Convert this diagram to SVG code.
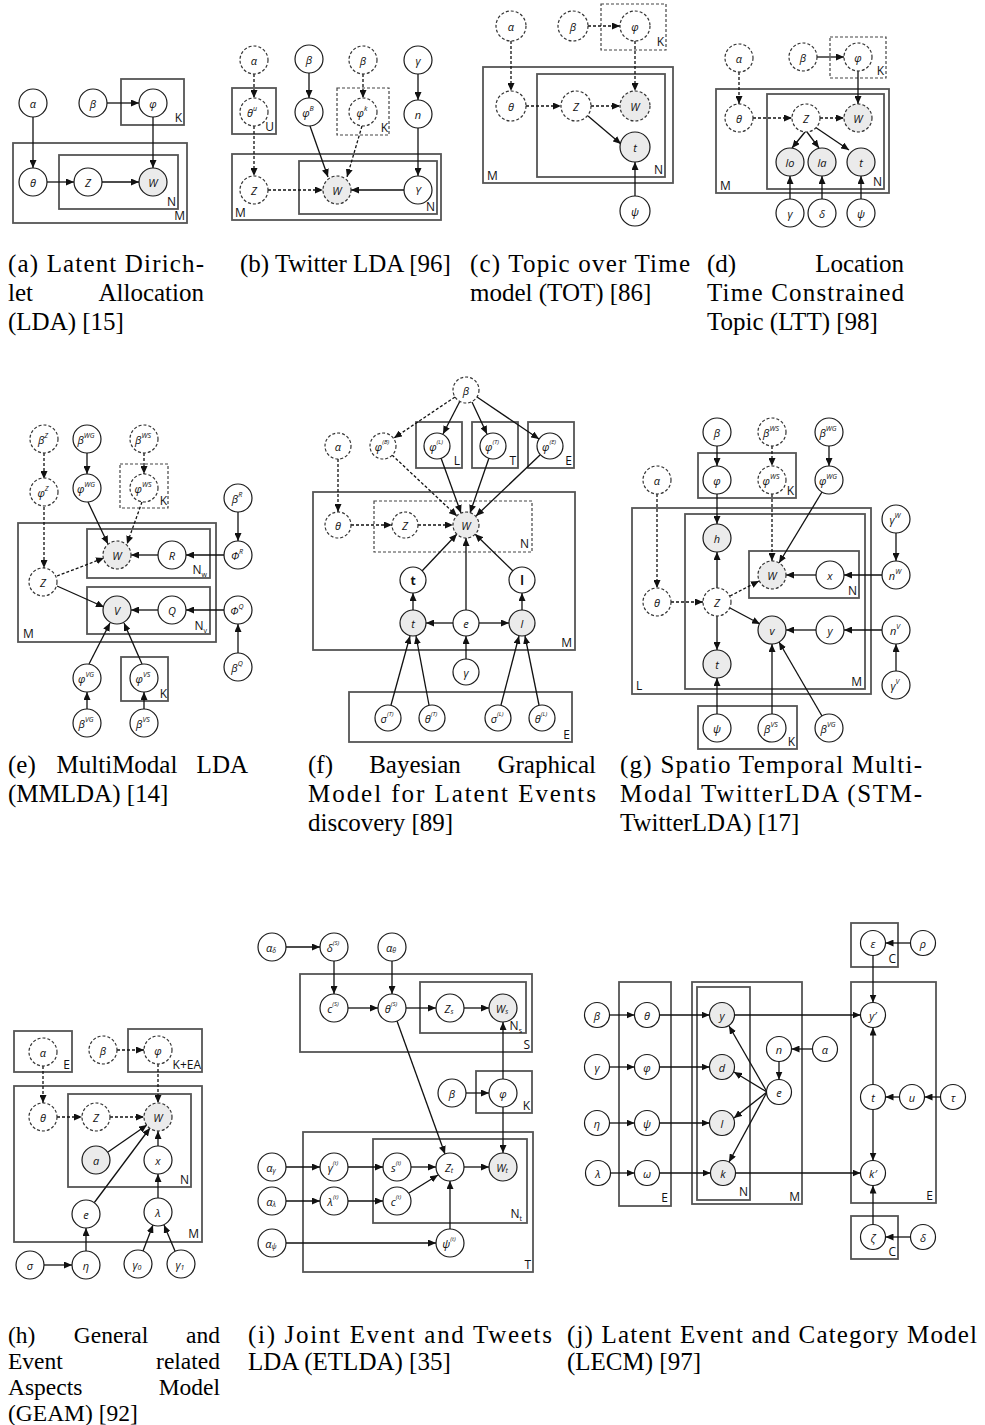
<svg xmlns="http://www.w3.org/2000/svg" width="985" height="1425" viewBox="0 0 985 1425">
<defs>
<marker id="ah" viewBox="0 0 8 7" refX="8" refY="3.5" markerWidth="8" markerHeight="7" markerUnits="userSpaceOnUse" orient="auto"><path d="M0,0 L8,3.5 L0,7 z" fill="#111"/></marker>
<style>
.c{fill:#fff;stroke:#1a1a1a;stroke-width:1.2}
.cd{fill:#fff;stroke:#333;stroke-width:1.2;stroke-dasharray:3 2}
.obs{fill:#ebebeb}
.t{font-family:"Open Sans","DejaVu Sans",sans-serif;font-style:italic;font-size:11px;text-anchor:middle;dominant-baseline:central;fill:#111}
.tb{font-style:normal;font-weight:bold;font-size:12px}
.s{stroke:#111;stroke-width:1.3;fill:none;marker-end:url(#ah)}
.sd{stroke-dasharray:3 2}
.p{fill:none;stroke:#555;stroke-width:1.8}
.pd{fill:none;stroke:#444;stroke-width:1.2;stroke-dasharray:3 2}
.pl{font-family:"Open Sans","DejaVu Sans",sans-serif;font-size:12px;fill:#111}
.pr{text-anchor:end}
.cap{font-family:"Liberation Serif",serif;font-size:25px;fill:#000}
.ch{font-size:23.5px}
.cm{text-anchor:middle}
.ce{text-anchor:end}
</style>
</defs>
<rect width="985" height="1425" fill="#fff"/>

<!-- ===== (a) LDA ===== -->
<g id="fig-a">
<g id="a-plates">
<rect class="p" x="13" y="143" width="174" height="80"/><text class="pl pr" x="185" y="220">M</text>
<rect class="p" x="59" y="155" width="119" height="54"/><text class="pl pr" x="176" y="206">N</text>
<rect class="p" x="121" y="79" width="63" height="46"/><text class="pl pr" x="182" y="122">K</text>
</g>
<g id="a-edges">
<line class="s" x1="33" y1="117" x2="33" y2="168"/>
<line class="s" x1="107" y1="103" x2="139" y2="103"/>
<line class="s" x1="153" y1="117" x2="153" y2="168"/>
<line class="s" x1="47" y1="182" x2="74" y2="182"/>
<line class="s" x1="102" y1="182" x2="139" y2="182"/>
</g>
<g id="a-alpha"><circle class="c" cx="33" cy="103" r="14"/><text class="t" x="33" y="103">α</text></g>
<g id="a-beta"><circle class="c" cx="93" cy="103" r="14"/><text class="t" x="93" y="103">β</text></g>
<g id="a-phi"><circle class="c" cx="153" cy="103" r="14"/><text class="t" x="153" y="103">φ</text></g>
<g id="a-theta"><circle class="c" cx="33" cy="182" r="14"/><text class="t" x="33" y="182">θ</text></g>
<g id="a-z"><circle class="c" cx="88" cy="182" r="14"/><text class="t" x="88" y="182">Z</text></g>
<g id="a-w"><circle class="c obs" cx="153" cy="182" r="14"/><text class="t" x="153" y="182">W</text></g>
</g>

<!-- ===== (b) Twitter LDA ===== -->
<g id="fig-b">
<g id="b-plates">
<rect class="p" x="232" y="88" width="44" height="46"/><text class="pl pr" x="274" y="131">U</text>
<rect class="pd" x="337" y="88" width="52" height="47"/><text class="pl pr" x="388" y="132">K</text>
<rect class="p" x="232" y="154" width="209" height="66"/><text class="pl" x="235" y="217">M</text>
<rect class="p" x="299" y="161" width="138" height="53"/><text class="pl pr" x="435" y="211">N</text>
</g>
<g id="b-edges">
<line class="s sd" x1="254" y1="74" x2="254" y2="98"/>
<line class="s sd" x1="254" y1="126" x2="254" y2="176"/>
<line class="s" x1="309" y1="73" x2="309" y2="98"/>
<line class="s" x1="310" y1="126" x2="328" y2="177"/>
<line class="s sd" x1="363" y1="74" x2="363" y2="98"/>
<line class="s sd" x1="362" y1="126" x2="347" y2="177"/>
<line class="s" x1="418" y1="74" x2="418" y2="100"/>
<line class="s" x1="418" y1="128" x2="418" y2="176"/>
<line class="s sd" x1="268" y1="190" x2="323" y2="190"/>
<line class="s" x1="404" y1="190" x2="351" y2="190"/>
</g>
<g id="b-alpha"><circle class="cd" cx="254" cy="60" r="14"/><text class="t" x="254" y="60">α</text></g>
<g id="b-betab"><circle class="c" cx="309" cy="59" r="14"/><text class="t" x="309" y="59">β</text></g>
<g id="b-beta"><circle class="cd" cx="363" cy="60" r="14"/><text class="t" x="363" y="60">β</text></g>
<g id="b-gamma"><circle class="c" cx="418" cy="60" r="14"/><text class="t" x="418" y="60">γ</text></g>
<g id="b-thetau"><circle class="cd" cx="254" cy="112" r="14"/><text class="t" x="252" y="112">θ<tspan dy="-4" font-size="7">u</tspan></text></g>
<g id="b-phib"><circle class="c" cx="309" cy="112" r="14"/><text class="t" x="308" y="112">φ<tspan dy="-4" font-size="7">B</tspan></text></g>
<g id="b-phik"><circle class="cd" cx="363" cy="112" r="14"/><text class="t" x="362" y="112">φ<tspan dy="-4" font-size="7">k</tspan></text></g>
<g id="b-n"><circle class="c" cx="418" cy="114" r="14"/><text class="t" x="418" y="114">n</text></g>
<g id="b-z"><circle class="cd" cx="254" cy="190" r="14"/><text class="t" x="254" y="190">Z</text></g>
<g id="b-w"><circle class="cd obs" cx="337" cy="190" r="14"/><text class="t" x="337" y="190">W</text></g>
<g id="b-y"><circle class="c" cx="418" cy="190" r="14"/><text class="t" x="418" y="190">Y</text></g>
</g>

<!-- ===== (c) TOT ===== -->
<g id="fig-c">
<g id="c-plates">
<rect class="pd" x="601" y="4" width="65" height="46"/><text class="pl pr" x="664" y="46">K</text>
<rect class="p" x="483" y="67" width="190" height="116"/><text class="pl" x="487" y="180">M</text>
<rect class="p" x="537" y="74" width="128" height="103"/><text class="pl pr" x="663" y="174">N</text>
</g>
<g id="c-edges">
<line class="s sd" x1="511" y1="41" x2="511" y2="91"/>
<line class="s sd" x1="588" y1="26" x2="620" y2="26"/>
<line class="s sd" x1="635" y1="41" x2="635" y2="91"/>
<line class="s sd" x1="526" y1="106" x2="561" y2="106"/>
<line class="s sd" x1="591" y1="106" x2="620" y2="106"/>
<line class="s" x1="588" y1="116" x2="621" y2="144"/>
<line class="s" x1="635" y1="196" x2="635" y2="162"/>
</g>
<g id="c-alpha"><circle class="cd" cx="511" cy="26" r="15"/><text class="t" x="511" y="26">α</text></g>
<g id="c-beta"><circle class="cd" cx="573" cy="26" r="15"/><text class="t" x="573" y="26">β</text></g>
<g id="c-phi"><circle class="cd" cx="635" cy="26" r="15"/><text class="t" x="635" y="26">φ</text></g>
<g id="c-theta"><circle class="cd" cx="511" cy="106" r="15"/><text class="t" x="511" y="106">θ</text></g>
<g id="c-z"><circle class="cd" cx="576" cy="106" r="15"/><text class="t" x="576" y="106">Z</text></g>
<g id="c-w"><circle class="cd obs" cx="635" cy="106" r="15"/><text class="t" x="635" y="106">W</text></g>
<g id="c-t"><circle class="c obs" cx="635" cy="147" r="15"/><text class="t" x="635" y="147">t</text></g>
<g id="c-psi"><circle class="c" cx="635" cy="211" r="15"/><text class="t" x="635" y="211">ψ</text></g>
</g>

<!-- ===== (d) LTT ===== -->
<g id="fig-d">
<g id="d-plates">
<rect class="pd" x="830" y="37" width="56" height="41"/><text class="pl pr" x="884" y="75">K</text>
<rect class="p" x="716" y="89" width="173" height="104"/><text class="pl" x="720" y="190">M</text>
<rect class="p" x="767" y="94" width="117" height="95"/><text class="pl pr" x="882" y="186">N</text>
</g>
<g id="d-edges">
<line class="s sd" x1="739" y1="72" x2="739" y2="104"/>
<line class="s" x1="817" y1="57" x2="844" y2="57"/>
<line class="s" x1="858" y1="71" x2="858" y2="104"/>
<line class="s sd" x1="753" y1="118" x2="792" y2="118"/>
<line class="s sd" x1="820" y1="118" x2="844" y2="118"/>
<line class="s" x1="805" y1="132" x2="792" y2="148"/>
<line class="s" x1="807" y1="132" x2="819" y2="148"/>
<line class="s" x1="815" y1="127" x2="849" y2="150"/>
<line class="s" x1="790" y1="199" x2="790" y2="176"/>
<line class="s" x1="822" y1="199" x2="822" y2="176"/>
<line class="s" x1="861" y1="199" x2="861" y2="176"/>
</g>
<g id="d-alpha"><circle class="cd" cx="739" cy="58" r="14"/><text class="t" x="739" y="58">α</text></g>
<g id="d-beta"><circle class="cd" cx="803" cy="57" r="14"/><text class="t" x="803" y="57">β</text></g>
<g id="d-phi"><circle class="cd" cx="858" cy="57" r="14"/><text class="t" x="858" y="57">φ</text></g>
<g id="d-theta"><circle class="cd" cx="739" cy="118" r="14"/><text class="t" x="739" y="118">θ</text></g>
<g id="d-z"><circle class="cd" cx="806" cy="118" r="14"/><text class="t" x="806" y="118">Z</text></g>
<g id="d-w"><circle class="cd obs" cx="858" cy="118" r="14"/><text class="t" x="858" y="118">W</text></g>
<g id="d-lo"><circle class="c obs" cx="790" cy="162" r="14"/><text class="t" x="790" y="162">lo</text></g>
<g id="d-la"><circle class="c obs" cx="822" cy="162" r="14"/><text class="t" x="822" y="162">la</text></g>
<g id="d-t"><circle class="c obs" cx="861" cy="162" r="14"/><text class="t" x="861" y="162">t</text></g>
<g id="d-gamma"><circle class="c" cx="790" cy="213" r="14"/><text class="t" x="790" y="213">γ</text></g>
<g id="d-delta"><circle class="c" cx="822" cy="213" r="14"/><text class="t" x="822" y="213">δ</text></g>
<g id="d-psi"><circle class="c" cx="861" cy="213" r="14"/><text class="t" x="861" y="213">ψ</text></g>
</g>

<!-- ===== (e) MMLDA ===== -->
<g id="fig-e">
<g id="e-plates">
<rect class="pd" x="120" y="464" width="48" height="44"/><text class="pl pr" x="167" y="505">K</text>
<rect class="p" x="18" y="523" width="198" height="119"/><text class="pl" x="23" y="638">M</text>
<rect class="p" x="87" y="529" width="123" height="49"/><text class="pl pr" x="207" y="574">N<tspan dy="3" font-size="7">w</tspan></text>
<rect class="p" x="87" y="587" width="123" height="47"/><text class="pl pr" x="207" y="630">N<tspan dy="3" font-size="7">v</tspan></text>
<rect class="p" x="121" y="657" width="47" height="44"/><text class="pl pr" x="167" y="698">K</text>
</g>
<g id="e-edges">
<line class="s sd" x1="44" y1="453" x2="44" y2="479"/>
<line class="s sd" x1="44" y1="507" x2="44" y2="568"/>
<line class="s" x1="87" y1="453" x2="87" y2="474"/>
<line class="s" x1="88" y1="502" x2="108" y2="544"/>
<line class="s sd" x1="144" y1="453" x2="144" y2="474"/>
<line class="s sd" x1="142" y1="502" x2="127" y2="544"/>
<line class="s sd" x1="57" y1="576" x2="104" y2="558"/>
<line class="s" x1="158" y1="555" x2="131" y2="555"/>
<line class="s" x1="224" y1="555" x2="186" y2="555"/>
<line class="s" x1="238" y1="512" x2="238" y2="541"/>
<line class="s" x1="57" y1="586" x2="104" y2="607"/>
<line class="s" x1="158" y1="610" x2="131" y2="610"/>
<line class="s" x1="224" y1="610" x2="186" y2="610"/>
<line class="s" x1="238" y1="653" x2="238" y2="624"/>
<line class="s" x1="89" y1="664" x2="110" y2="623"/>
<line class="s" x1="142" y1="664" x2="124" y2="623"/>
<line class="s" x1="87" y1="709" x2="87" y2="692"/>
<line class="s" x1="144" y1="709" x2="144" y2="692"/>
</g>
<g id="e-betaz"><circle class="cd" cx="44" cy="439" r="14"/><text class="t" x="43" y="439">β<tspan dy="-4" font-size="7">Z</tspan></text></g>
<g id="e-betawg"><circle class="c" cx="87" cy="439" r="14"/><text class="t" x="86" y="439">β<tspan dy="-4" font-size="7">WG</tspan></text></g>
<g id="e-betaws"><circle class="cd" cx="144" cy="439" r="14"/><text class="t" x="143" y="439">β<tspan dy="-4" font-size="7">WS</tspan></text></g>
<g id="e-phiz"><circle class="cd" cx="44" cy="492" r="14"/><text class="t" x="43" y="492">φ<tspan dy="-4" font-size="7">Z</tspan></text></g>
<g id="e-phiwg"><circle class="c" cx="87" cy="488" r="14"/><text class="t" x="86" y="488">φ<tspan dy="-4" font-size="7">WG</tspan></text></g>
<g id="e-phiws"><circle class="cd" cx="144" cy="488" r="14"/><text class="t" x="143" y="488">φ<tspan dy="-4" font-size="7">WS</tspan></text></g>
<g id="e-betar"><circle class="c" cx="238" cy="498" r="14"/><text class="t" x="237" y="498">β<tspan dy="-4" font-size="7">R</tspan></text></g>
<g id="e-phir"><circle class="c" cx="238" cy="555" r="14"/><text class="t" x="237" y="555">Φ<tspan dy="-4" font-size="7">R</tspan></text></g>
<g id="e-w"><circle class="cd obs" cx="117" cy="555" r="14"/><text class="t" x="117" y="555">W</text></g>
<g id="e-r"><circle class="c" cx="172" cy="555" r="14"/><text class="t" x="172" y="555">R</text></g>
<g id="e-z"><circle class="cd" cx="43" cy="582" r="14"/><text class="t" x="43" y="582">Z</text></g>
<g id="e-v"><circle class="c obs" cx="117" cy="610" r="14"/><text class="t" x="117" y="610">V</text></g>
<g id="e-q"><circle class="c" cx="172" cy="610" r="14"/><text class="t" x="172" y="610">Q</text></g>
<g id="e-phiq"><circle class="c" cx="238" cy="610" r="14"/><text class="t" x="237" y="610">Φ<tspan dy="-4" font-size="7">Q</tspan></text></g>
<g id="e-betaq"><circle class="c" cx="238" cy="667" r="14"/><text class="t" x="237" y="667">β<tspan dy="-4" font-size="7">Q</tspan></text></g>
<g id="e-phivg"><circle class="c" cx="87" cy="678" r="14"/><text class="t" x="86" y="678">φ<tspan dy="-4" font-size="7">VG</tspan></text></g>
<g id="e-phivs"><circle class="c" cx="144" cy="678" r="14"/><text class="t" x="143" y="678">φ<tspan dy="-4" font-size="7">VS</tspan></text></g>
<g id="e-betavg"><circle class="c" cx="87" cy="723" r="14"/><text class="t" x="86" y="723">β<tspan dy="-4" font-size="7">VG</tspan></text></g>
<g id="e-betavs"><circle class="c" cx="144" cy="723" r="14"/><text class="t" x="143" y="723">β<tspan dy="-4" font-size="7">VS</tspan></text></g>
</g>

<!-- ===== (f) Bayesian latent events ===== -->
<g id="fig-f">
<g id="f-plates">
<rect class="p" x="416" y="422" width="46" height="46"/><text class="pl pr" x="460" y="465">L</text>
<rect class="p" x="472" y="422" width="46" height="46"/><text class="pl pr" x="516" y="465">T</text>
<rect class="p" x="528" y="422" width="46" height="46"/><text class="pl pr" x="572" y="465">E</text>
<rect class="p" x="313" y="492" width="262" height="158"/><text class="pl pr" x="572" y="647">M</text>
<rect class="pd" x="374" y="501" width="158" height="51"/><text class="pl pr" x="529" y="548">N</text>
<rect class="p" x="349" y="692" width="223" height="50"/><text class="pl pr" x="570" y="739">E</text>
</g>
<g id="f-edges">
<line class="s sd" x1="455" y1="397" x2="394" y2="438"/>
<line class="s" x1="460" y1="401" x2="443" y2="434"/>
<line class="s" x1="472" y1="402" x2="487" y2="434"/>
<line class="s" x1="477" y1="397" x2="539" y2="439"/>
<line class="s sd" x1="338" y1="459" x2="338" y2="512"/>
<line class="s sd" x1="351" y1="525" x2="392" y2="525"/>
<line class="s sd" x1="418" y1="525" x2="453" y2="525"/>
<line class="s sd" x1="392" y1="455" x2="457" y2="516"/>
<line class="s" x1="441" y1="458" x2="461" y2="513"/>
<line class="s" x1="489" y1="458" x2="470" y2="513"/>
<line class="s" x1="540" y1="455" x2="476" y2="516"/>
<line class="s" x1="422" y1="571" x2="457" y2="534"/>
<line class="s" x1="466" y1="610" x2="466" y2="538"/>
<line class="s" x1="513" y1="571" x2="475" y2="534"/>
<line class="s" x1="413" y1="610" x2="413" y2="593"/>
<line class="s" x1="522" y1="610" x2="522" y2="593"/>
<line class="s" x1="453" y1="623" x2="426" y2="623"/>
<line class="s" x1="479" y1="623" x2="509" y2="623"/>
<line class="s" x1="466" y1="659" x2="466" y2="636"/>
<line class="s" x1="391" y1="705" x2="410" y2="636"/>
<line class="s" x1="429" y1="705" x2="416" y2="636"/>
<line class="s" x1="501" y1="705" x2="519" y2="636"/>
<line class="s" x1="539" y1="705" x2="525" y2="636"/>
</g>
<g id="f-beta"><circle class="cd" cx="466" cy="390" r="13"/><text class="t" x="466" y="390">β</text></g>
<g id="f-alpha"><circle class="cd" cx="338" cy="446" r="13"/><text class="t" x="338" y="446">α</text></g>
<g id="f-phib"><circle class="cd" cx="383" cy="446" r="13"/><text class="t" x="382" y="446">φ<tspan dy="-4" font-size="6">(B)</tspan></text></g>
<g id="f-phil"><circle class="c" cx="437" cy="446" r="13"/><text class="t" x="436" y="446">φ<tspan dy="-4" font-size="6">(L)</tspan></text></g>
<g id="f-phit"><circle class="c" cx="493" cy="446" r="13"/><text class="t" x="492" y="446">φ<tspan dy="-4" font-size="6">(T)</tspan></text></g>
<g id="f-phie"><circle class="c" cx="550" cy="446" r="13"/><text class="t" x="549" y="446">φ<tspan dy="-4" font-size="6">(E)</tspan></text></g>
<g id="f-theta"><circle class="cd" cx="338" cy="525" r="13"/><text class="t" x="338" y="525">θ</text></g>
<g id="f-z"><circle class="cd" cx="405" cy="525" r="13"/><text class="t" x="405" y="525">Z</text></g>
<g id="f-w"><circle class="cd obs" cx="466" cy="525" r="13"/><text class="t" x="466" y="525">W</text></g>
<g id="f-tb"><circle class="c" cx="413" cy="580" r="13"/><text class="t tb" x="413" y="580">t</text></g>
<g id="f-lb"><circle class="c" cx="522" cy="580" r="13"/><text class="t tb" x="522" y="580">l</text></g>
<g id="f-t"><circle class="c obs" cx="413" cy="623" r="13"/><text class="t" x="413" y="623">t</text></g>
<g id="f-e"><circle class="c" cx="466" cy="623" r="13"/><text class="t" x="466" y="623">e</text></g>
<g id="f-l"><circle class="c obs" cx="522" cy="623" r="13"/><text class="t" x="522" y="623">l</text></g>
<g id="f-gamma"><circle class="c" cx="466" cy="672" r="13"/><text class="t" x="466" y="672">γ</text></g>
<g id="f-sigmat"><circle class="c" cx="388" cy="718" r="13"/><text class="t" x="387" y="718">σ<tspan dy="-4" font-size="6">(T)</tspan></text></g>
<g id="f-thetat"><circle class="c" cx="432" cy="718" r="13"/><text class="t" x="431" y="718">θ<tspan dy="-4" font-size="6">(T)</tspan></text></g>
<g id="f-sigmal"><circle class="c" cx="498" cy="718" r="13"/><text class="t" x="497" y="718">σ<tspan dy="-4" font-size="6">(L)</tspan></text></g>
<g id="f-thetal"><circle class="c" cx="542" cy="718" r="13"/><text class="t" x="541" y="718">θ<tspan dy="-4" font-size="6">(L)</tspan></text></g>
</g>

<!-- ===== (g) STM-TwitterLDA ===== -->
<g id="fig-g">
<g id="g-plates">
<rect class="p" x="698" y="453" width="98" height="45"/><text class="pl pr" x="794" y="495">K</text>
<rect class="p" x="632" y="508" width="239" height="186"/><text class="pl" x="636" y="690">L</text>
<rect class="p" x="685" y="514" width="180" height="175"/><text class="pl pr" x="862" y="686">M</text>
<rect class="p" x="749" y="551" width="110" height="47"/><text class="pl pr" x="857" y="595">N</text>
<rect class="p" x="698" y="706" width="99" height="43"/><text class="pl pr" x="795" y="746">K</text>
</g>
<g id="g-edges">
<line class="s" x1="717" y1="446" x2="717" y2="466"/>
<line class="s" x1="717" y1="494" x2="717" y2="524"/>
<line class="s sd" x1="772" y1="446" x2="772" y2="466"/>
<line class="s sd" x1="772" y1="494" x2="772" y2="561"/>
<line class="s" x1="829" y1="446" x2="829" y2="466"/>
<line class="s" x1="822" y1="492" x2="779" y2="563"/>
<line class="s sd" x1="657" y1="494" x2="657" y2="588"/>
<line class="s sd" x1="671" y1="602" x2="703" y2="602"/>
<line class="s sd" x1="730" y1="596" x2="759" y2="581"/>
<line class="s" x1="717" y1="588" x2="717" y2="552"/>
<line class="s" x1="717" y1="616" x2="717" y2="650"/>
<line class="s" x1="730" y1="608" x2="760" y2="624"/>
<line class="s" x1="816" y1="575" x2="786" y2="575"/>
<line class="s" x1="882" y1="575" x2="844" y2="575"/>
<line class="s" x1="896" y1="533" x2="896" y2="561"/>
<line class="s" x1="816" y1="630" x2="786" y2="630"/>
<line class="s" x1="882" y1="630" x2="844" y2="630"/>
<line class="s" x1="896" y1="671" x2="896" y2="644"/>
<line class="s" x1="717" y1="714" x2="717" y2="678"/>
<line class="s" x1="772" y1="714" x2="772" y2="644"/>
<line class="s" x1="822" y1="716" x2="779" y2="642"/>
</g>
<g id="g-beta"><circle class="c" cx="717" cy="432" r="14"/><text class="t" x="717" y="432">β</text></g>
<g id="g-betaws"><circle class="cd" cx="772" cy="432" r="14"/><text class="t" x="771" y="432">β<tspan dy="-4" font-size="7">WS</tspan></text></g>
<g id="g-betawg"><circle class="c" cx="829" cy="432" r="14"/><text class="t" x="828" y="432">β<tspan dy="-4" font-size="7">WG</tspan></text></g>
<g id="g-alpha"><circle class="cd" cx="657" cy="480" r="14"/><text class="t" x="657" y="480">α</text></g>
<g id="g-phi"><circle class="c" cx="717" cy="480" r="14"/><text class="t" x="717" y="480">φ</text></g>
<g id="g-phiws"><circle class="cd" cx="772" cy="480" r="14"/><text class="t" x="771" y="480">φ<tspan dy="-4" font-size="7">WS</tspan></text></g>
<g id="g-phiwg"><circle class="c" cx="829" cy="480" r="14"/><text class="t" x="828" y="480">φ<tspan dy="-4" font-size="7">WG</tspan></text></g>
<g id="g-gammaw"><circle class="c" cx="896" cy="519" r="14"/><text class="t" x="895" y="519">γ<tspan dy="-4" font-size="7">W</tspan></text></g>
<g id="g-h"><circle class="c obs" cx="717" cy="538" r="14"/><text class="t" x="717" y="538">h</text></g>
<g id="g-w"><circle class="cd obs" cx="772" cy="575" r="14"/><text class="t" x="772" y="575">W</text></g>
<g id="g-x"><circle class="c" cx="830" cy="575" r="14"/><text class="t" x="830" y="575">x</text></g>
<g id="g-nw"><circle class="c" cx="896" cy="575" r="14"/><text class="t" x="895" y="575">n<tspan dy="-4" font-size="7">W</tspan></text></g>
<g id="g-theta"><circle class="cd" cx="657" cy="602" r="14"/><text class="t" x="657" y="602">θ</text></g>
<g id="g-z"><circle class="cd" cx="717" cy="602" r="14"/><text class="t" x="717" y="602">Z</text></g>
<g id="g-v"><circle class="c obs" cx="772" cy="630" r="14"/><text class="t" x="772" y="630">v</text></g>
<g id="g-y"><circle class="c" cx="830" cy="630" r="14"/><text class="t" x="830" y="630">y</text></g>
<g id="g-nv"><circle class="c" cx="896" cy="630" r="14"/><text class="t" x="895" y="630">n<tspan dy="-4" font-size="7">V</tspan></text></g>
<g id="g-t"><circle class="c obs" cx="717" cy="664" r="14"/><text class="t" x="717" y="664">t</text></g>
<g id="g-gammav"><circle class="c" cx="896" cy="685" r="14"/><text class="t" x="895" y="685">γ<tspan dy="-4" font-size="7">V</tspan></text></g>
<g id="g-psi"><circle class="c" cx="717" cy="728" r="14"/><text class="t" x="717" y="728">ψ</text></g>
<g id="g-betavs"><circle class="c" cx="772" cy="728" r="14"/><text class="t" x="771" y="728">β<tspan dy="-4" font-size="7">VS</tspan></text></g>
<g id="g-betavg"><circle class="c" cx="829" cy="728" r="14"/><text class="t" x="828" y="728">β<tspan dy="-4" font-size="7">VG</tspan></text></g>
</g>

<!-- ===== (h) GEAM ===== -->
<g id="fig-h">
<g id="h-plates">
<rect class="p" x="14" y="1031" width="58" height="41"/><text class="pl pr" x="70" y="1069">E</text>
<rect class="p" x="128" y="1029" width="74" height="43"/><text class="pl pr" x="201" y="1069">K+EA</text>
<rect class="p" x="14" y="1086" width="188" height="156"/><text class="pl pr" x="199" y="1238">M</text>
<rect class="p" x="68" y="1094" width="123" height="93"/><text class="pl pr" x="189" y="1184">N</text>
</g>
<g id="h-edges">
<line class="s sd" x1="43" y1="1066" x2="43" y2="1103"/>
<line class="s sd" x1="117" y1="1050" x2="144" y2="1050"/>
<line class="s sd" x1="158" y1="1064" x2="158" y2="1103"/>
<line class="s sd" x1="57" y1="1117" x2="82" y2="1117"/>
<line class="s sd" x1="110" y1="1117" x2="144" y2="1117"/>
<line class="s" x1="108" y1="1152" x2="147" y2="1125"/>
<line class="s" x1="158" y1="1146" x2="158" y2="1131"/>
<line class="s" x1="158" y1="1198" x2="158" y2="1174"/>
<line class="s" x1="94" y1="1203" x2="150" y2="1128"/>
<line class="s" x1="86" y1="1251" x2="86" y2="1228"/>
<line class="s" x1="44" y1="1265" x2="72" y2="1265"/>
<line class="s" x1="143" y1="1251" x2="153" y2="1225"/>
<line class="s" x1="175" y1="1251" x2="164" y2="1225"/>
</g>
<g id="h-alpha"><circle class="cd" cx="43" cy="1052" r="14"/><text class="t" x="43" y="1052">α</text></g>
<g id="h-beta"><circle class="cd" cx="103" cy="1050" r="14"/><text class="t" x="103" y="1050">β</text></g>
<g id="h-phi"><circle class="cd" cx="158" cy="1050" r="14"/><text class="t" x="158" y="1050">φ</text></g>
<g id="h-theta"><circle class="cd" cx="43" cy="1117" r="14"/><text class="t" x="43" y="1117">θ</text></g>
<g id="h-z"><circle class="cd" cx="96" cy="1117" r="14"/><text class="t" x="96" y="1117">Z</text></g>
<g id="h-w"><circle class="cd obs" cx="158" cy="1117" r="14"/><text class="t" x="158" y="1117">W</text></g>
<g id="h-a"><circle class="c obs" cx="96" cy="1160" r="14"/><text class="t" x="96" y="1160">a</text></g>
<g id="h-x"><circle class="c" cx="158" cy="1160" r="14"/><text class="t" x="158" y="1160">x</text></g>
<g id="h-e"><circle class="c" cx="86" cy="1214" r="14"/><text class="t" x="86" y="1214">e</text></g>
<g id="h-lambda"><circle class="c" cx="158" cy="1212" r="14"/><text class="t" x="158" y="1212">λ</text></g>
<g id="h-sigma"><circle class="c" cx="30" cy="1265" r="14"/><text class="t" x="30" y="1265">σ</text></g>
<g id="h-eta"><circle class="c" cx="86" cy="1265" r="14"/><text class="t" x="86" y="1265">η</text></g>
<g id="h-gamma0"><circle class="c" cx="138" cy="1264" r="14"/><text class="t" x="137" y="1264">γ<tspan dy="3" font-size="7">0</tspan></text></g>
<g id="h-gamma1"><circle class="c" cx="181" cy="1264" r="14"/><text class="t" x="180" y="1264">γ<tspan dy="3" font-size="7">1</tspan></text></g>
</g>

<!-- ===== (i) ETLDA ===== -->
<g id="fig-i">
<g id="i-plates">
<rect class="p" x="300" y="974" width="232" height="78"/><text class="pl pr" x="530" y="1049">S</text>
<rect class="p" x="420" y="982" width="106" height="51"/><text class="pl pr" x="522" y="1030">N<tspan dy="3" font-size="7">s</tspan></text>
<rect class="p" x="476" y="1071" width="56" height="42"/><text class="pl pr" x="530" y="1110">K</text>
<rect class="p" x="303" y="1132" width="230" height="140"/><text class="pl pr" x="531" y="1269">T</text>
<rect class="p" x="373" y="1139" width="154" height="84"/><text class="pl pr" x="522" y="1218">N<tspan dy="3" font-size="7">t</tspan></text>
</g>
<g id="i-edges">
<line class="s" x1="286" y1="947" x2="320" y2="947"/>
<line class="s" x1="334" y1="961" x2="334" y2="994"/>
<line class="s" x1="392" y1="961" x2="392" y2="994"/>
<line class="s" x1="348" y1="1008" x2="378" y2="1008"/>
<line class="s" x1="406" y1="1008" x2="436" y2="1008"/>
<line class="s" x1="464" y1="1008" x2="489" y2="1008"/>
<line class="s" x1="466" y1="1093" x2="489" y2="1093"/>
<line class="s" x1="503" y1="1079" x2="503" y2="1022"/>
<line class="s" x1="503" y1="1107" x2="503" y2="1153"/>
<line class="s" x1="397" y1="1021" x2="445" y2="1154"/>
<line class="s" x1="286" y1="1167" x2="320" y2="1167"/>
<line class="s" x1="348" y1="1167" x2="383" y2="1167"/>
<line class="s" x1="411" y1="1167" x2="436" y2="1167"/>
<line class="s" x1="464" y1="1167" x2="489" y2="1167"/>
<line class="s" x1="286" y1="1201" x2="320" y2="1201"/>
<line class="s" x1="348" y1="1201" x2="383" y2="1201"/>
<line class="s" x1="409" y1="1193" x2="438" y2="1175"/>
<line class="s" x1="286" y1="1243" x2="436" y2="1243"/>
<line class="s" x1="450" y1="1229" x2="450" y2="1181"/>
</g>
<g id="i-alphadelta"><circle class="c" cx="272" cy="947" r="14"/><text class="t" x="271" y="947">α<tspan dy="3" font-size="7">δ</tspan></text></g>
<g id="i-deltas"><circle class="c" cx="334" cy="947" r="14"/><text class="t" x="333" y="947">δ<tspan dy="-4" font-size="6">(S)</tspan></text></g>
<g id="i-alphatheta"><circle class="c" cx="392" cy="947" r="14"/><text class="t" x="391" y="947">α<tspan dy="3" font-size="7">θ</tspan></text></g>
<g id="i-cs"><circle class="c" cx="334" cy="1008" r="14"/><text class="t" x="333" y="1008">c<tspan dy="-4" font-size="6">(S)</tspan></text></g>
<g id="i-thetas"><circle class="c" cx="392" cy="1008" r="14"/><text class="t" x="391" y="1008">θ<tspan dy="-4" font-size="6">(S)</tspan></text></g>
<g id="i-zs"><circle class="c" cx="450" cy="1008" r="14"/><text class="t" x="449" y="1008">Z<tspan dy="3" font-size="7">s</tspan></text></g>
<g id="i-ws"><circle class="c obs" cx="503" cy="1008" r="14"/><text class="t" x="502" y="1008">W<tspan dy="3" font-size="7">s</tspan></text></g>
<g id="i-beta"><circle class="c" cx="452" cy="1093" r="14"/><text class="t" x="452" y="1093">β</text></g>
<g id="i-phi"><circle class="c" cx="503" cy="1093" r="14"/><text class="t" x="503" y="1093">φ</text></g>
<g id="i-alphagamma"><circle class="c" cx="272" cy="1167" r="14"/><text class="t" x="271" y="1167">α<tspan dy="3" font-size="7">γ</tspan></text></g>
<g id="i-gammat"><circle class="c" cx="334" cy="1167" r="14"/><text class="t" x="333" y="1167">γ<tspan dy="-4" font-size="6">(t)</tspan></text></g>
<g id="i-st"><circle class="c" cx="397" cy="1167" r="14"/><text class="t" x="396" y="1167">s<tspan dy="-4" font-size="6">(t)</tspan></text></g>
<g id="i-zt"><circle class="c" cx="450" cy="1167" r="14"/><text class="t" x="449" y="1167">Z<tspan dy="3" font-size="7">t</tspan></text></g>
<g id="i-wt"><circle class="c obs" cx="503" cy="1167" r="14"/><text class="t" x="502" y="1167">W<tspan dy="3" font-size="7">t</tspan></text></g>
<g id="i-alphalambda"><circle class="c" cx="272" cy="1201" r="14"/><text class="t" x="271" y="1201">α<tspan dy="3" font-size="7">λ</tspan></text></g>
<g id="i-lambdat"><circle class="c" cx="334" cy="1201" r="14"/><text class="t" x="333" y="1201">λ<tspan dy="-4" font-size="6">(t)</tspan></text></g>
<g id="i-ct"><circle class="c" cx="397" cy="1201" r="14"/><text class="t" x="396" y="1201">c<tspan dy="-4" font-size="6">(t)</tspan></text></g>
<g id="i-alphapsi"><circle class="c" cx="272" cy="1243" r="14"/><text class="t" x="271" y="1243">α<tspan dy="3" font-size="7">ψ</tspan></text></g>
<g id="i-psit"><circle class="c" cx="450" cy="1243" r="14"/><text class="t" x="449" y="1243">ψ<tspan dy="-4" font-size="6">(t)</tspan></text></g>
</g>

<!-- ===== (j) LECM ===== -->
<g id="fig-j">
<g id="j-plates">
<rect class="p" x="851" y="923" width="47" height="44"/><text class="pl pr" x="896" y="963">C</text>
<rect class="p" x="619" y="982" width="52" height="224"/><text class="pl pr" x="668" y="1202">E</text>
<rect class="p" x="692" y="982" width="110" height="222"/><text class="pl pr" x="800" y="1201">M</text>
<rect class="p" x="697" y="987" width="53" height="213"/><text class="pl pr" x="748" y="1196">N</text>
<rect class="p" x="851" y="982" width="85" height="221"/><text class="pl pr" x="933" y="1200">E</text>
<rect class="p" x="851" y="1216" width="47" height="43"/><text class="pl pr" x="896" y="1256">C</text>
</g>
<g id="j-edges">
<line class="s" x1="609.5" y1="1015" x2="634.5" y2="1015"/>
<line class="s" x1="609.5" y1="1067" x2="634.5" y2="1067"/>
<line class="s" x1="609.5" y1="1123" x2="634.5" y2="1123"/>
<line class="s" x1="611" y1="1173" x2="634.5" y2="1173"/>
<line class="s" x1="659.5" y1="1015" x2="709.5" y2="1015"/>
<line class="s" x1="659.5" y1="1067" x2="709.5" y2="1067"/>
<line class="s" x1="659.5" y1="1123" x2="709.5" y2="1123"/>
<line class="s" x1="659.5" y1="1173" x2="710.5" y2="1173"/>
<line class="s" x1="734.5" y1="1015" x2="860.5" y2="1015"/>
<line class="s" x1="735.5" y1="1173" x2="860.5" y2="1173"/>
<line class="s" x1="812.5" y1="1049" x2="791.5" y2="1049"/>
<line class="s" x1="779" y1="1061.5" x2="779" y2="1079.5"/>
<line class="s" x1="767" y1="1092" x2="729" y2="1026"/>
<line class="s" x1="767" y1="1092" x2="734" y2="1072"/>
<line class="s" x1="767" y1="1092" x2="734" y2="1118"/>
<line class="s" x1="767" y1="1092" x2="729" y2="1162"/>
<line class="s" x1="873" y1="1084.5" x2="873" y2="1027.5"/>
<line class="s" x1="873" y1="1109.5" x2="873" y2="1160.5"/>
<line class="s" x1="899.5" y1="1097" x2="885.5" y2="1097"/>
<line class="s" x1="940.5" y1="1097" x2="924.5" y2="1097"/>
<line class="s" x1="873" y1="1224.5" x2="873" y2="1185.5"/>
<line class="s" x1="910.5" y1="1237" x2="885.5" y2="1237"/>
<line class="s" x1="873" y1="955.5" x2="873" y2="1002.5"/>
<line class="s" x1="910.5" y1="943" x2="885.5" y2="943"/>
</g>
<g id="j-beta"><circle class="c" cx="597" cy="1015" r="12.5"/><text class="t" x="597" y="1015">β</text></g>
<g id="j-theta"><circle class="c" cx="647" cy="1015" r="12.5"/><text class="t" x="647" y="1015">θ</text></g>
<g id="j-y"><circle class="c obs" cx="722" cy="1015" r="12.5"/><text class="t" x="722" y="1015">y</text></g>
<g id="j-yp"><circle class="c" cx="873" cy="1015" r="12.5"/><text class="t" x="873" y="1015">y′</text></g>
<g id="j-gamma"><circle class="c" cx="597" cy="1067" r="12.5"/><text class="t" x="597" y="1067">γ</text></g>
<g id="j-phi"><circle class="c" cx="647" cy="1067" r="12.5"/><text class="t" x="647" y="1067">φ</text></g>
<g id="j-d"><circle class="c obs" cx="722" cy="1067" r="12.5"/><text class="t" x="722" y="1067">d</text></g>
<g id="j-n"><circle class="c" cx="779" cy="1049" r="12.5"/><text class="t" x="779" y="1049">n</text></g>
<g id="j-alpha"><circle class="c" cx="825" cy="1049" r="12.5"/><text class="t" x="825" y="1049">α</text></g>
<g id="j-e"><circle class="c" cx="779" cy="1092" r="12.5"/><text class="t" x="779" y="1092">e</text></g>
<g id="j-t"><circle class="c" cx="873" cy="1097" r="12.5"/><text class="t" x="873" y="1097">t</text></g>
<g id="j-u"><circle class="c" cx="912" cy="1097" r="12.5"/><text class="t" x="912" y="1097">u</text></g>
<g id="j-tau"><circle class="c" cx="953" cy="1097" r="12.5"/><text class="t" x="953" y="1097">τ</text></g>
<g id="j-eta"><circle class="c" cx="597" cy="1123" r="12.5"/><text class="t" x="597" y="1123">η</text></g>
<g id="j-psi"><circle class="c" cx="647" cy="1123" r="12.5"/><text class="t" x="647" y="1123">ψ</text></g>
<g id="j-l"><circle class="c obs" cx="722" cy="1123" r="12.5"/><text class="t" x="722" y="1123">l</text></g>
<g id="j-lambda"><circle class="c" cx="598" cy="1173" r="12.5"/><text class="t" x="598" y="1173">λ</text></g>
<g id="j-omega"><circle class="c" cx="647" cy="1173" r="12.5"/><text class="t" x="647" y="1173">ω</text></g>
<g id="j-k"><circle class="c obs" cx="723" cy="1173" r="12.5"/><text class="t" x="723" y="1173">k</text></g>
<g id="j-kp"><circle class="c" cx="873" cy="1173" r="12.5"/><text class="t" x="873" y="1173">k′</text></g>
<g id="j-zeta"><circle class="c" cx="873" cy="1237" r="12.5"/><text class="t" x="873" y="1237">ζ</text></g>
<g id="j-delta"><circle class="c" cx="923" cy="1237" r="12.5"/><text class="t" x="923" y="1237">δ</text></g>
<g id="j-eps"><circle class="c" cx="873" cy="943" r="12.5"/><text class="t" x="873" y="943">ε</text></g>
<g id="j-rho"><circle class="c" cx="923" cy="943" r="12.5"/><text class="t" x="923" y="943">ρ</text></g>
</g>

<!-- ===== captions ===== -->
<g id="captions">
<text class="cap" x="8" y="272" textLength="196" lengthAdjust="spacing">(a) Latent Dirich-</text>
<text class="cap" x="8" y="301">let</text><text class="cap ce" x="204" y="301">Allocation</text>
<text class="cap" x="8" y="330">(LDA) [15]</text>
<text class="cap" x="240" y="272">(b) Twitter LDA [96]</text>
<text class="cap" x="470" y="272" textLength="220" lengthAdjust="spacing">(c) Topic over Time</text>
<text class="cap" x="470" y="301">model (TOT) [86]</text>
<text class="cap" x="707" y="272">(d)</text><text class="cap ce" x="904" y="272">Location</text>
<text class="cap" x="707" y="301" textLength="197" lengthAdjust="spacing">Time Constrained</text>
<text class="cap" x="707" y="330">Topic (LTT) [98]</text>

<text class="cap" x="8" y="773">(e)</text><text class="cap cm" x="117" y="773">MultiModal</text><text class="cap ce" x="248" y="773">LDA</text>
<text class="cap" x="8" y="802">(MMLDA) [14]</text>
<text class="cap" x="308" y="773">(f)</text><text class="cap cm" x="415" y="773">Bayesian</text><text class="cap ce" x="596" y="773">Graphical</text>
<text class="cap" x="308" y="802" textLength="288" lengthAdjust="spacing">Model for Latent Events</text>
<text class="cap" x="308" y="831">discovery [89]</text>
<text class="cap" x="620" y="773" textLength="302" lengthAdjust="spacing">(g) Spatio Temporal Multi-</text>
<text class="cap" x="620" y="802" textLength="302" lengthAdjust="spacing">Modal TwitterLDA (STM-</text>
<text class="cap" x="620" y="831">TwitterLDA) [17]</text>

<text class="cap ch" x="8" y="1343">(h)</text><text class="cap ch cm" x="111" y="1343">General</text><text class="cap ch ce" x="220" y="1343">and</text>
<text class="cap ch" x="8" y="1369">Event</text><text class="cap ch ce" x="220" y="1369">related</text>
<text class="cap ch" x="8" y="1395">Aspects</text><text class="cap ch ce" x="220" y="1395">Model</text>
<text class="cap ch" x="8" y="1421">(GEAM) [92]</text>
<text class="cap" x="248" y="1343" textLength="304" lengthAdjust="spacing">(i) Joint Event and Tweets</text>
<text class="cap" x="248" y="1370">LDA (ETLDA) [35]</text>
<text class="cap" x="567" y="1343" textLength="410" lengthAdjust="spacing">(j) Latent Event and Category Model</text>
<text class="cap" x="567" y="1370">(LECM) [97]</text>
</g>
</svg>
